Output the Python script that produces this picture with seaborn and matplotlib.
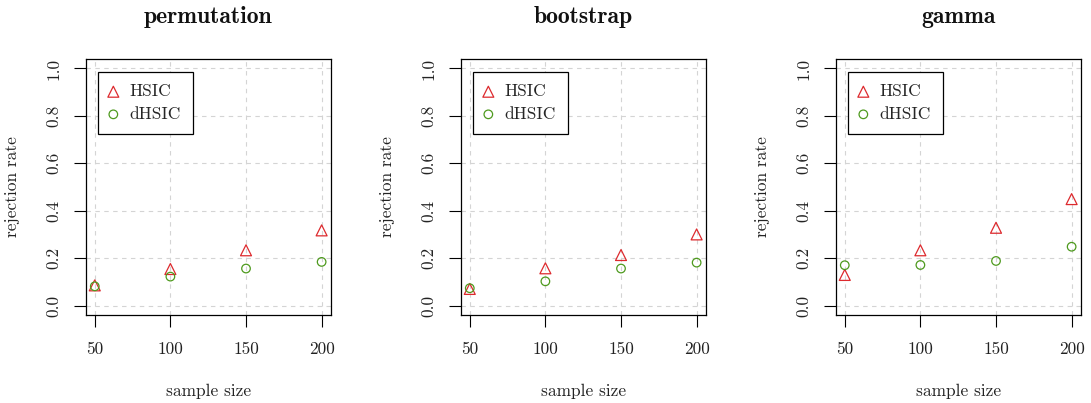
import pandas as pd
import matplotlib.pyplot as plt
import seaborn as sns

# rejection rates
sample_size = [50, 100, 150, 200]
panels = ['permutation', 'bootstrap', 'gamma']
hsic_perm = [0.085, 0.154, 0.233, 0.317]
dhsic_perm = [0.081, 0.122, 0.156, 0.184]
hsic_boot = [0.070, 0.157, 0.213, 0.300]
dhsic_boot = [0.073, 0.102, 0.156, 0.181]
hsic_gamma = [0.129, 0.233, 0.328, 0.449]
dhsic_gamma = [0.170, 0.171, 0.188, 0.248]

hsic_vals = [hsic_perm, hsic_boot, hsic_gamma]
dhsic_vals = [dhsic_perm, dhsic_boot, dhsic_gamma]
y_ticks = [0.0, 0.2, 0.4, 0.6, 0.8, 1.0]

red = '#DD2A2E'
green = '#4E9A1E'

sns.set_style('ticks')
plt.rcParams['font.family'] = ['cmr10', 'DejaVu Serif']
plt.rcParams['axes.formatter.use_mathtext'] = True

fig = plt.figure(figsize=(10.91, 4.03), dpi=100)
lefts = [85.7 / 1091, 460.7 / 1091, 835.7 / 1091]
w = 245 / 1091
b = 1 - 315 / 403
h = 256 / 403

for i, name in enumerate(panels):
    ax = fig.add_axes([lefts[i], b, w, h])
    df = pd.DataFrame({'n': sample_size, 'HSIC': hsic_vals[i], 'dHSIC': dhsic_vals[i]})
    sns.scatterplot(data=df, x='n', y='HSIC', marker='^', s=62, color=red,
                    facecolor='none', edgecolor=red, linewidth=0.9, ax=ax,
                    label='HSIC', zorder=3)
    sns.scatterplot(data=df, x='n', y='dHSIC', marker='o', s=38, color=green,
                    facecolor='none', edgecolor=green, linewidth=0.9, ax=ax,
                    label='dHSIC', zorder=3)

    ax.set_xlim(44, 206)
    ax.set_ylim(-0.04, 1.04)
    ax.set_xticks(sample_size)
    ax.set_xticklabels([str(s) for s in sample_size])
    ax.set_yticks(y_ticks)
    ax.set_yticklabels([f'{t:.1f}' for t in y_ticks], rotation=90, va='center')
    ax.tick_params(axis='both', length=8.3, width=0.8, color='black',
                   labelsize=12.5, colors='#222222')
    ax.tick_params(axis='x', pad=11)
    ax.tick_params(axis='y', pad=9)
    ax.grid(True, color='#d4d4d4', linestyle=(0, (4, 4)), linewidth=0.8)
    ax.set_axisbelow(True)
    for sp in ax.spines.values():
        sp.set_visible(True)
        sp.set_color('black')
        sp.set_linewidth(0.9)

    ax.set_xlabel('sample size', fontsize=12.5, color='#222222')
    ax.set_ylabel('rejection rate', fontsize=12.5, color='#222222')
    ax.xaxis.set_label_coords(0.5, -0.27)
    ax.yaxis.set_label_coords(-0.268, 0.5)
    ax.set_title(name, fontsize=17, family=['cmb10', 'DejaVu Serif'],
                 fontweight='bold', pad=26, color='#111111')

    leg = ax.legend(loc='upper left', bbox_to_anchor=(0.049, 0.95),
                    borderaxespad=0, fancybox=False, framealpha=1,
                    edgecolor='black', fontsize=12.5, handletextpad=0.75,
                    borderpad=0.7, labelspacing=0.42, handlelength=0.4)
    leg.get_frame().set_linewidth(0.9)

plt.savefig('out.png', dpi=100)
